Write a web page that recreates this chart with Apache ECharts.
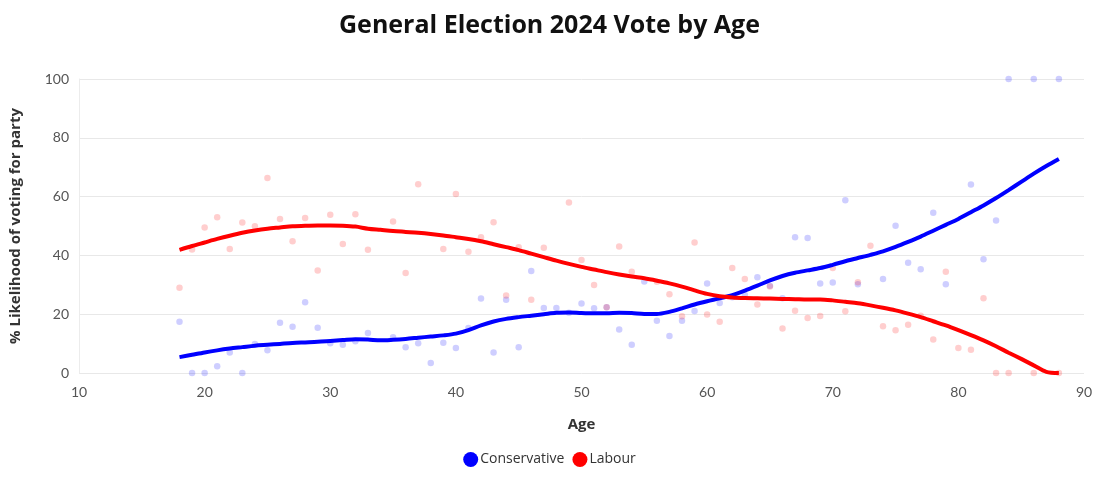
<!DOCTYPE html>
<html>
<head>
<meta charset="utf-8">
<script src="https://cdn.jsdelivr.net/npm/echarts@6/dist/echarts.min.js"></script>
<style>html,body{margin:0;padding:0;background:#fff}#c{width:1099px;height:484px}</style>
</head>
<body>
<div id="c"></div>
<script>
// Scatter data (age, % likelihood)
var conAges = [18,19,20,21,22,23,24,25,26,27,28,29,30,31,32,33,35,36,37,38,39,40,41,42,43,44,45,46,47,48,49,50,51,52,53,54,55,56,57,58,59,60,61,62,63,64,65,66,67,68,69,70,71,72,74,75,76,77,78,79,81,82,83,84,86,88];
var conVals = [17.4,0,0,2.3,7,0,9.9,7.7,17.1,15.7,24.1,15.4,10.1,9.6,10.8,13.6,12.2,8.8,10.1,3.4,10.3,8.5,15.3,25.3,7,24.9,8.8,34.7,22.1,22.1,20.5,23.6,22,22.4,14.8,9.6,31.1,17.8,12.6,17.8,21.1,30.4,23.8,25.8,26.6,32.6,29.7,25.4,46.2,45.9,30.4,30.8,58.8,30.2,32,50.1,37.5,35.3,54.5,30.2,64.1,38.7,51.9,100,100,100];
var labAges = [18,19,20,21,22,23,24,25,26,27,28,29,30,31,32,33,35,36,37,39,40,41,42,43,44,45,46,47,49,50,51,52,53,54,56,57,58,59,60,61,62,63,64,65,66,67,68,69,70,71,72,73,74,75,76,77,78,79,80,81,82,83,84,86,88];
var labVals = [29,42,49.5,53,42.2,51.2,49.9,66.3,52.4,44.8,52.7,34.9,53.8,43.9,54,41.9,51.5,34,64.2,42.2,60.9,41.2,46.2,51.3,26.4,42.8,24.9,42.6,58,38.4,29.9,22.4,43,34.4,31,26.8,19.3,44.4,19.9,17.4,35.7,32,23.3,29.4,15.1,21.2,18.7,19.4,35.7,21,30.9,43.3,15.9,14.5,16.4,19.5,11.4,34.4,8.5,7.9,25.4,0,0,0,0];
// Smoothed trend lines, ages 18..88
var trendAges = [18,19,20,21,22,23,24,25,26,27,28,29,30,31,32,33,34,35,36,37,38,39,40,41,42,43,44,45,46,47,48,49,50,51,52,53,54,55,56,57,58,59,60,61,62,63,64,65,66,67,68,69,70,71,72,73,74,75,76,77,78,79,80,81,82,83,84,85,86,87,88];
var conTrend = [5.4,6.2,7.0,7.7,8.3,8.8,9.3,9.6,9.9,10.2,10.4,10.6,10.9,11.2,11.5,11.4,11.1,11.3,11.6,12.0,12.4,12.8,13.4,14.6,16.2,17.5,18.4,19.0,19.5,20.0,20.5,20.6,20.4,20.3,20.3,20.5,20.4,20.1,20.1,20.8,22.0,23.3,24.4,25.4,26.5,28.0,29.7,31.5,33.0,34.1,34.9,35.7,36.8,38.0,39.1,40.2,41.4,42.9,44.6,46.4,48.4,50.4,52.4,54.7,57.0,59.5,62.2,65.0,67.8,70.4,72.8];
var labTrend = [41.9,43.2,44.4,45.6,46.7,47.7,48.5,49.1,49.5,49.9,50.1,50.2,50.2,50.1,49.8,49.1,48.7,48.3,48.0,47.7,47.3,46.8,46.2,45.6,44.8,43.8,42.8,41.8,40.6,39.4,38.2,37.1,36.1,35.2,34.3,33.5,32.8,32.2,31.4,30.5,29.4,28.1,26.9,26.1,25.7,25.5,25.4,25.3,25.2,25.1,25.0,25.0,24.7,24.2,23.7,23.0,22.2,21.3,20.2,19.0,17.6,16.2,14.6,12.9,11.1,9.1,6.9,4.8,2.6,0.4,0];
var xTicks = [10,20,30,40,50,60,70,80,90];
var yTicks = [0,20,40,60,80,100];

function zip(a, b) { return a.map(function (v, i) { return [v, b[i]]; }); }

var FONT = 'Lato, "Open Sans", sans-serif';
var BOLD = '"Open Sans", Lato, sans-serif';
var chart = echarts.init(document.getElementById('c'), null, {renderer: 'canvas'});
chart.setOption({
  animation: false,
  backgroundColor: '#fff',
  textStyle: {fontFamily: FONT},
  title: {
    text: 'General Election 2024 Vote by Age',
    left: 'center', top: 8,
    textStyle: {fontFamily: BOLD, fontWeight: 'bold', fontSize: 25, color: '#111'}
  },
  legend: {
    bottom: 12, left: 'center',
    icon: 'circle', itemWidth: 15, itemHeight: 15, itemGap: 8,
    textStyle: {fontFamily: BOLD, fontSize: 14, color: '#333', padding: [0, 0, 0, -3]},
    data: [{name: 'Conservative', itemStyle: {color: '#0000ff'}}, {name: 'Labour', itemStyle: {color: '#ff0000'}}]
  },
  grid: {left: 76, right: 15, top: 79, bottom: 111, containLabel: false},
  xAxis: {
    type: 'value', min: xTicks[0], max: xTicks[xTicks.length - 1], interval: 10,
    name: 'Age', nameLocation: 'middle', nameGap: 44,
    nameTextStyle: {fontFamily: BOLD, fontWeight: 'bold', fontSize: 15, color: '#333'},
    axisLine: {show: false}, axisTick: {show: false},
    splitLine: {show: false},
    axisLabel: {fontFamily: FONT, fontSize: 14, color: '#555', margin: 12}
  },
  yAxis: {
    type: 'value', min: yTicks[0], max: yTicks[yTicks.length - 1], interval: 20,
    name: '% Likelihood of voting for party', nameLocation: 'middle', nameGap: 56,
    nameTextStyle: {fontFamily: BOLD, fontWeight: 'bold', fontSize: 15, color: '#333'},
    axisLine: {show: true, lineStyle: {color: '#ececec'}}, axisTick: {show: false},
    splitLine: {show: true, lineStyle: {color: '#e8e8e8'}},
    axisLabel: {fontFamily: FONT, fontSize: 14, color: '#555', margin: 10}
  },
  series: [
    {name: 'Conservative', type: 'line', data: zip(trendAges, conTrend), smooth: 0.3, showSymbol: false, z: 5,
     lineStyle: {color: '#0000ff', width: 4}, itemStyle: {color: '#0000ff'}},
    {name: 'Labour', type: 'line', data: zip(trendAges, labTrend), smooth: 0.3, showSymbol: false, z: 5,
     lineStyle: {color: '#ff0000', width: 4}, itemStyle: {color: '#ff0000'}},
    {name: 'Conservative', type: 'scatter', data: zip(conAges, conVals), symbolSize: 6.5, z: 2,
     itemStyle: {color: 'rgba(0,0,255,0.24)'}},
    {name: 'Labour', type: 'scatter', data: zip(labAges, labVals), symbolSize: 6.5, z: 2,
     itemStyle: {color: 'rgba(255,0,0,0.24)'}}
  ]
});
</script>
</body>
</html>
